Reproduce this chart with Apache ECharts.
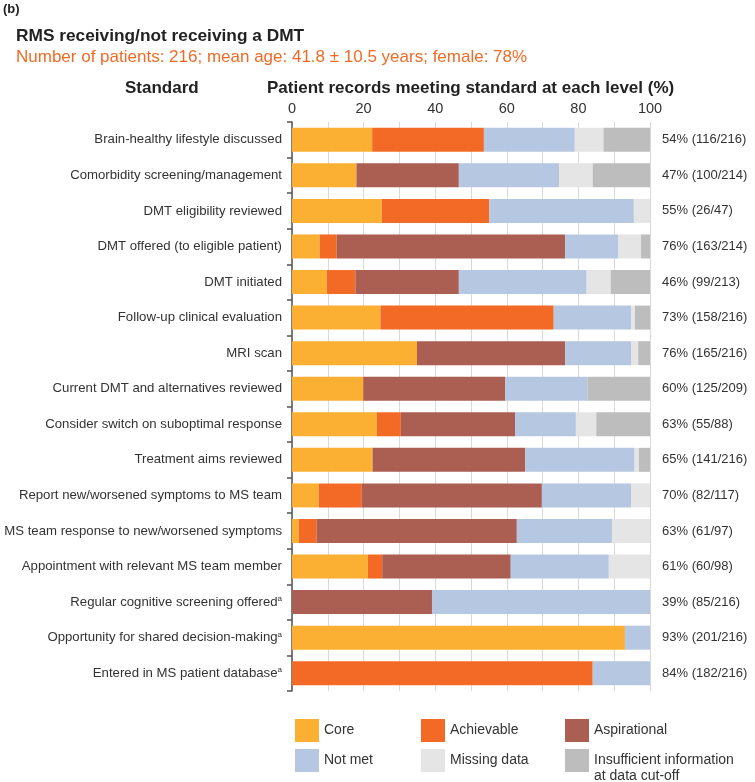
<!DOCTYPE html>
<html>
<head>
<meta charset="utf-8">
<script src="https://cdn.jsdelivr.net/npm/echarts@6/dist/echarts.min.js"></script>
<style>
html,body{margin:0;padding:0;background:#fff;}
#chart{width:755px;height:782px;}
</style>
</head>
<body>
<div id="chart"></div>
<script>
const categories = [
  'Brain-healthy lifestyle discussed',
  'Comorbidity screening/management',
  'DMT eligibility reviewed',
  'DMT offered (to eligible patient)',
  'DMT initiated',
  'Follow-up clinical evaluation',
  'MRI scan',
  'Current DMT and alternatives reviewed',
  'Consider switch on suboptimal response',
  'Treatment aims reviewed',
  'Report new/worsened symptoms to MS team',
  'MS team response to new/worsened symptoms',
  'Appointment with relevant MS team member',
  'Regular cognitive screening offered{sup|a}',
  'Opportunity for shared decision-making{sup|a}',
  'Entered in MS patient database{sup|a}'
];
const rightLabels = [
  '54% (116/216)', '47% (100/214)', '55% (26/47)', '76% (163/214)',
  '46% (99/213)', '73% (158/216)', '76% (165/216)', '60% (125/209)',
  '63% (55/88)', '65% (141/216)', '70% (82/117)', '63% (61/97)',
  '61% (60/98)', '39% (85/216)', '93% (201/216)', '84% (182/216)'
];
const core         = [22.4, 18.0, 25.1, 7.7, 9.7, 24.7, 34.9, 19.9, 23.7, 22.5, 7.5, 1.9, 21.2, 0, 93.0, 0];
const achievable   = [31.2, 0, 30.0, 4.8, 8.0, 48.4, 0, 0, 6.7, 0, 12.0, 5.0, 4.0, 0, 0, 84.0];
const aspirational = [0, 28.6, 0, 63.8, 28.9, 0, 41.4, 39.7, 31.9, 42.6, 50.3, 55.9, 35.9, 39.1, 0, 0];
const notMet       = [25.4, 28.0, 40.4, 14.9, 35.7, 21.7, 18.4, 22.9, 17.0, 30.6, 24.9, 26.7, 27.4, 60.9, 7.0, 16.0];
const missing      = [8.0, 9.4, 4.5, 6.3, 6.7, 1.0, 2.0, 0, 5.7, 1.2, 5.3, 10.5, 11.5, 0, 0, 0];
const insufficient = [13.0, 16.0, 0, 2.5, 11.0, 4.2, 3.3, 17.5, 15.0, 3.1, 0, 0, 0, 0, 0, 0];

const seriesNames = ['Core', 'Achievable', 'Aspirational', 'Not met', 'Missing data', 'Insufficient information at data cut-off'];
const seriesData = [core, achievable, aspirational, notMet, missing, insufficient];
const colors = ['#fbb034', '#f26a25', '#ab5e52', '#b6c7e2', '#e5e5e5', '#bdbdbd'];

const FONT = '"Liberation Sans", Arial, sans-serif';
const chart = echarts.init(document.getElementById('chart'));

const legendCommon = {
  orient: 'vertical', icon: 'rect', itemWidth: 24, itemHeight: 23, itemGap: 7,
  top: 719, height: 120, padding: 0,
  textStyle: { fontFamily: FONT, fontSize: 14, color: '#333' }
};
const titleStyle = function (size, weight, color) {
  return { fontFamily: FONT, fontSize: size, fontWeight: weight, color: color };
};

chart.setOption({
  backgroundColor: '#fff',
  animation: false,
  title: [
    { text: '(b)', left: 3, top: 3, padding: 0, textStyle: titleStyle(13, 'bold', '#222') },
    { text: 'RMS receiving/not receiving a DMT', left: 16, top: 28, padding: 0, textStyle: titleStyle(17.3, 'bold', '#222') },
    { text: 'Number of patients: 216; mean age: 41.8 \u00b1 10.5 years; female: 78%', left: 16, top: 48.5, padding: 0, textStyle: titleStyle(17, 'normal', '#f26a25') },
    { text: 'Standard', left: 125, top: 80, padding: 0, textStyle: titleStyle(17, 'bold', '#222') },
    { text: 'Patient records meeting standard at each level (%)', left: 267, top: 80, padding: 0, textStyle: titleStyle(17, 'bold', '#222') }
  ],
  legend: [
    Object.assign({ left: 295, data: ['Core', 'Not met'] }, legendCommon),
    Object.assign({ left: 421, data: ['Achievable', 'Missing data'] }, legendCommon),
    Object.assign({ left: 565, data: ['Aspirational', 'Insufficient information at data cut-off'],
      formatter: function (n) { return n === 'Insufficient information at data cut-off' ? 'Insufficient information' : n; } }, legendCommon)
  ],
  graphic: [
    { type: 'text', left: 594, top: 769, silent: true,
      style: { text: 'at data cut-off', fontFamily: FONT, fontSize: 14, fill: '#333' } }
  ],
  grid: { left: 292, right: 105, top: 122, bottom: 91, containLabel: false, outerBoundsMode: 'none' },
  xAxis: {
    type: 'value', position: 'top', min: 0, max: 100, interval: 10,
    axisLine: { show: false }, axisTick: { show: false },
    splitLine: { show: true, lineStyle: { color: '#d9d9d9', width: 1 } },
    axisLabel: {
      margin: 6, fontFamily: FONT, fontSize: 14.5, color: '#333',
      formatter: function (v) { return v % 20 === 0 ? String(v) : ''; }
    }
  },
  yAxis: [
    {
      type: 'category', data: categories, inverse: true, position: 'left',
      axisLine: { show: true, lineStyle: { color: '#555', width: 1.5 } },
      axisTick: { show: true, length: 5, lineStyle: { color: '#555', width: 1.5 } },
      axisLabel: {
        margin: 10, fontFamily: FONT, fontSize: 13.2, color: '#333',
        rich: { sup: { fontFamily: FONT, fontSize: 8, color: '#333', verticalAlign: 'top', lineHeight: 14, padding: [0, 0, 6, 0] } }
      }
    },
    {
      type: 'category', data: rightLabels, inverse: true, position: 'right',
      axisLine: { show: false }, axisTick: { show: false },
      axisLabel: { margin: 12, fontFamily: FONT, fontSize: 13, color: '#333', align: 'left' }
    }
  ],
  series: seriesNames.map(function (name, i) {
    return {
      name: name, type: 'bar', stack: 'total', yAxisIndex: 0,
      barWidth: 24, data: seriesData[i],
      itemStyle: { color: colors[i] },
      emphasis: { disabled: true }
    };
  })
});
</script>
</body>
</html>
